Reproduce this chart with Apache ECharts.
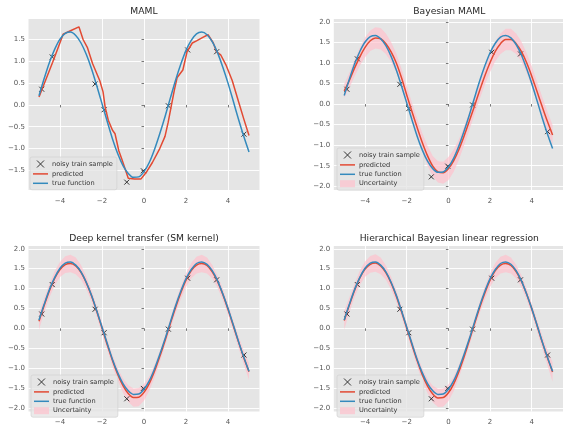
<!DOCTYPE html>
<html><head><meta charset="utf-8">
<script src="https://cdn.jsdelivr.net/npm/echarts@6/dist/echarts.min.js"></script>
<style>html,body{margin:0;padding:0;background:#fff}#c{width:563px;height:426px}</style>
</head><body><div id="c"></div>
<script>
// ---------------- data ----------------
const titles = ['MAML', 'Bayesian MAML', 'Deep kernel transfer (SM kernel)', 'Hierarchical Bayesian linear regression'];
const xTicks = [-4, -2, 0, 2, 4];
const yTicksMaml = [-1.5, -1.0, -0.5, 0.0, 0.5, 1.0, 1.5];
const yTicksOther = [-2.0, -1.5, -1.0, -0.5, 0.0, 0.5, 1.0, 1.5, 2.0];

const sampleX = [-4.87, -4.37, -2.33, -1.90, -0.82, -0.03, 1.16, 2.08, 3.46, 4.76];
const sampleY = [0.36, 1.10, 0.48, -0.11, -1.77, -1.51, -0.02, 1.26, 1.22, -0.67];

const xGrid = [-5, -4.75, -4.5, -4.25, -4, -3.75, -3.5, -3.25, -3, -2.75, -2.5, -2.25, -2, -1.75, -1.5, -1.25, -1, -0.75, -0.5, -0.25,
  0, 0.25, 0.5, 0.75, 1, 1.25, 1.5, 1.75, 2, 2.25, 2.5, 2.75, 3, 3.25, 3.5, 3.75, 4, 4.25, 4.5, 4.75, 5];
const trueY = [0.21, 0.61, 0.98, 1.28, 1.51, 1.64, 1.67, 1.59, 1.42, 1.16, 0.83, 0.44, 0.03, -0.38, -0.78, -1.12, -1.39, -1.57, -1.66, -1.65,
  -1.53, -1.32, -1.02, -0.66, -0.27, 0.15, 0.56, 0.93, 1.25, 1.48, 1.63, 1.67, 1.61, 1.45, 1.20, 0.87, 0.50, 0.09, -0.33, -0.72, -1.08];

const mamlX = [-5.0, -4.7, -4.35, -4.1, -3.85, -3.5, -3.1, -2.9, -2.7, -2.45, -2.1, -1.95, -1.85, -1.7, -1.5, -1.38, -1.2, -1.05, -0.75, -0.45,
  -0.15, 0.1, 0.4, 0.75, 1.0, 1.15, 1.3, 1.45, 1.58, 1.85, 2.05, 2.3, 2.5, 2.8, 3.05, 3.3, 3.45, 3.65, 3.9, 4.2, 4.5, 4.75, 5.0];
const mamlY = [0.18, 0.55, 0.98, 1.30, 1.62, 1.70, 1.79, 1.50, 1.32, 0.95, 0.55, 0.30, -0.05, -0.35, -0.58, -0.66, -1.05, -1.25, -1.68, -1.70,
  -1.70, -1.55, -1.32, -1.00, -0.72, -0.40, -0.02, 0.35, 0.63, 0.80, 1.22, 1.42, 1.47, 1.55, 1.61, 1.42, 1.22, 1.15, 0.92, 0.56, 0.08, -0.32, -0.70];

const bmamlPred = [0.32, 0.58, 0.88, 1.15, 1.38, 1.54, 1.61, 1.59, 1.47, 1.27, 1.00, 0.64, 0.22, -0.18, -0.57, -0.94, -1.26, -1.51, -1.65, -1.67,
  -1.57, -1.38, -1.11, -0.78, -0.42, -0.05, 0.33, 0.69, 1.01, 1.28, 1.47, 1.57, 1.57, 1.47, 1.28, 1.01, 0.68, 0.31, -0.06, -0.42, -0.75];
const bmamlStd = [0.17, 0.18, 0.20, 0.22, 0.24, 0.25, 0.26, 0.26, 0.25, 0.24, 0.23, 0.22, 0.22, 0.22, 0.22, 0.23, 0.24, 0.25, 0.26, 0.27,
  0.28, 0.27, 0.25, 0.23, 0.22, 0.21, 0.21, 0.22, 0.23, 0.24, 0.25, 0.26, 0.26, 0.25, 0.24, 0.24, 0.24, 0.24, 0.24, 0.24, 0.24];

const dktPred = [0.18, 0.58, 0.95, 1.26, 1.48, 1.60, 1.63, 1.57, 1.41, 1.15, 0.82, 0.43, 0.01, -0.41, -0.81, -1.16, -1.44, -1.64, -1.74, -1.73,
  -1.61, -1.39, -1.08, -0.71, -0.31, 0.11, 0.52, 0.89, 1.21, 1.45, 1.59, 1.63, 1.58, 1.42, 1.18, 0.86, 0.48, 0.07, -0.34, -0.73, -1.09];
const dktStd = [0.21, 0.18, 0.17, 0.18, 0.19, 0.21, 0.22, 0.21, 0.18, 0.16, 0.14, 0.13, 0.13, 0.13, 0.14, 0.16, 0.18, 0.21, 0.23, 0.23,
  0.21, 0.18, 0.16, 0.14, 0.13, 0.13, 0.14, 0.16, 0.17, 0.19, 0.21, 0.22, 0.20, 0.17, 0.15, 0.14, 0.13, 0.13, 0.15, 0.17, 0.21];

const hblrPred = [0.20, 0.59, 0.96, 1.27, 1.49, 1.61, 1.64, 1.57, 1.40, 1.14, 0.81, 0.42, 0.01, -0.41, -0.81, -1.17, -1.45, -1.65, -1.75, -1.74,
  -1.62, -1.40, -1.09, -0.72, -0.31, 0.11, 0.52, 0.89, 1.21, 1.45, 1.59, 1.63, 1.58, 1.43, 1.19, 0.87, 0.49, 0.08, -0.34, -0.73, -1.10];
const hblrStd = [0.23, 0.19, 0.17, 0.18, 0.19, 0.21, 0.22, 0.21, 0.18, 0.16, 0.14, 0.13, 0.13, 0.13, 0.14, 0.16, 0.18, 0.21, 0.23, 0.23,
  0.21, 0.18, 0.16, 0.14, 0.13, 0.13, 0.14, 0.16, 0.17, 0.19, 0.21, 0.22, 0.20, 0.17, 0.15, 0.14, 0.13, 0.14, 0.16, 0.19, 0.24];

// ---------------- styling / layout ----------------
const FONT = 'DejaVu Sans';
const RED = '#E24A33', BLUE = '#348ABD', PINK = 'rgba(255,192,203,0.68)';
const XMARK = 'path://M0,0L10,10M10,0L0,10';
const LINEICON = 'path://M0,0H15V1.5H0Z';
const panels = [
  {left: 28.5, top: 19, ymin: -1.95, ymax: 1.97, yt: yTicksMaml, legTop: 157, legLeft: 30},
  {left: 333.8, top: 19, ymin: -2.09, ymax: 2.07, yt: yTicksOther, legTop: 148, legLeft: 337},
  {left: 28.5, top: 246, ymin: -2.09, ymax: 2.07, yt: yTicksOther, legTop: 375, legLeft: 31},
  {left: 333.8, top: 246, ymin: -2.09, ymax: 2.07, yt: yTicksOther, legTop: 375, legLeft: 337}
];
const PW = 231, PH = 171;
const minus = s => String(s).replace('-', '\u2212');
const bands = [null, [bmamlPred, bmamlStd], [dktPred, dktStd], [hblrPred, hblrStd]];

const grid = [], xAxis = [], yAxis = [], title = [], legend = [], series = [];
panels.forEach((p, i) => {
  grid.push({left: p.left, top: p.top, width: PW, height: PH, show: true, backgroundColor: '#E5E5E5', borderWidth: 0, containLabel: false});
  const tick = {show: true, length: 2.5, lineStyle: {color: '#555555', width: 0.8}};
  const lab = {color: '#555555', fontSize: 7, fontFamily: FONT};
  const common = {gridIndex: i, type: 'value', axisLine: {show: false},
    splitLine: {show: true, lineStyle: {color: '#ffffff', width: 0.9}}};
  xAxis.push(Object.assign({}, common, {
    min: -5.5, max: 5.5,
    axisTick: Object.assign({}, tick, {customValues: xTicks}),
    axisLabel: Object.assign({}, lab, {margin: 7.5, customValues: xTicks, formatter: v => minus(v)})
  }));
  yAxis.push(Object.assign({}, common, {
    min: p.ymin, max: p.ymax,
    axisTick: Object.assign({}, tick, {customValues: p.yt}),
    axisLabel: Object.assign({}, lab, {margin: 3.5, customValues: p.yt, formatter: v => minus(Number(v).toFixed(1))})
  }));
  title.push({text: titles[i], left: p.left + PW / 2, top: p.top - 11.5, textAlign: 'center', padding: 0,
    textStyle: {fontSize: 9.2, fontWeight: 'normal', color: '#262626', fontFamily: FONT}});
  const names = ['noisy train sample', 'predicted', 'true function'];
  if (i > 0) names.push('Uncertainty');
  legend.push({
    orient: 'vertical', left: p.legLeft, top: p.legTop, itemWidth: 15, itemHeight: 7, itemGap: 2.4,
    padding: [3, 4, 3, 3], backgroundColor: 'rgba(229,229,229,0.8)', borderColor: '#cccccc', borderWidth: 0.6, borderRadius: 2,
    selectedMode: false,
    textStyle: {fontSize: 6.6, color: '#333333', fontFamily: FONT, lineHeight: 7, padding: [0, 0, 0, -1]},
    data: names.map(n => {
      if (n === 'noisy train sample') return {name: n, icon: XMARK, itemStyle: {color: 'transparent', borderColor: '#333333', borderWidth: 1}};
      if (n === 'Uncertainty') return {name: n, icon: 'rect', itemStyle: {color: PINK}};
      return {name: n, icon: LINEICON};
    })
  });

  const pairs = (xs, ys) => xs.map((x, k) => [x, ys[k]]);
  if (bands[i]) {
    const [pred, sd] = bands[i];
    series.push({type: 'custom', name: 'Uncertainty', xAxisIndex: i, yAxisIndex: i, z: 1, silent: true,
      itemStyle: {color: PINK},
      data: xGrid.map((x, k) => [x, pred[k] - sd[k], pred[k] + sd[k]]),
      encode: {x: 0, y: [1, 2]},
      renderItem: (params, api) => {
        if (params.dataIndex !== 0) return null;
        const up = [], lo = [];
        for (let k = 0; k < xGrid.length; k++) {
          up.push(api.coord([xGrid[k], pred[k] + sd[k]]));
          lo.push(api.coord([xGrid[k], pred[k] - sd[k]]));
        }
        return {type: 'polygon', shape: {points: up.concat(lo.reverse())}, style: {fill: PINK}};
      }
    });
  }
  series.push({type: 'line', name: 'noisy train sample', xAxisIndex: i, yAxisIndex: i, symbol: XMARK, symbolSize: 5,
    lineStyle: {width: 0, opacity: 0}, itemStyle: {color: 'transparent', borderColor: '#333333', borderWidth: 1}, z: 3,
    data: pairs(sampleX, sampleY)});
  const predData = i === 0 ? pairs(mamlX, mamlY) : pairs(xGrid, bands[i][0]);
  series.push({type: 'line', name: 'predicted', xAxisIndex: i, yAxisIndex: i, symbol: 'none', smooth: i === 0 ? false : 0.3,
    lineStyle: {color: RED, width: 1.5}, itemStyle: {color: RED}, z: 4, data: predData});
  series.push({type: 'line', name: 'true function', xAxisIndex: i, yAxisIndex: i, symbol: 'none', smooth: 0.3,
    lineStyle: {color: BLUE, width: 1.5}, itemStyle: {color: BLUE}, z: 5, data: pairs(xGrid, trueY)});
});

const chart = echarts.init(document.getElementById('c'), null, {renderer: 'canvas'});
chart.setOption({animation: false, backgroundColor: '#ffffff', grid, xAxis, yAxis, title, legend, series});
</script></body></html>
